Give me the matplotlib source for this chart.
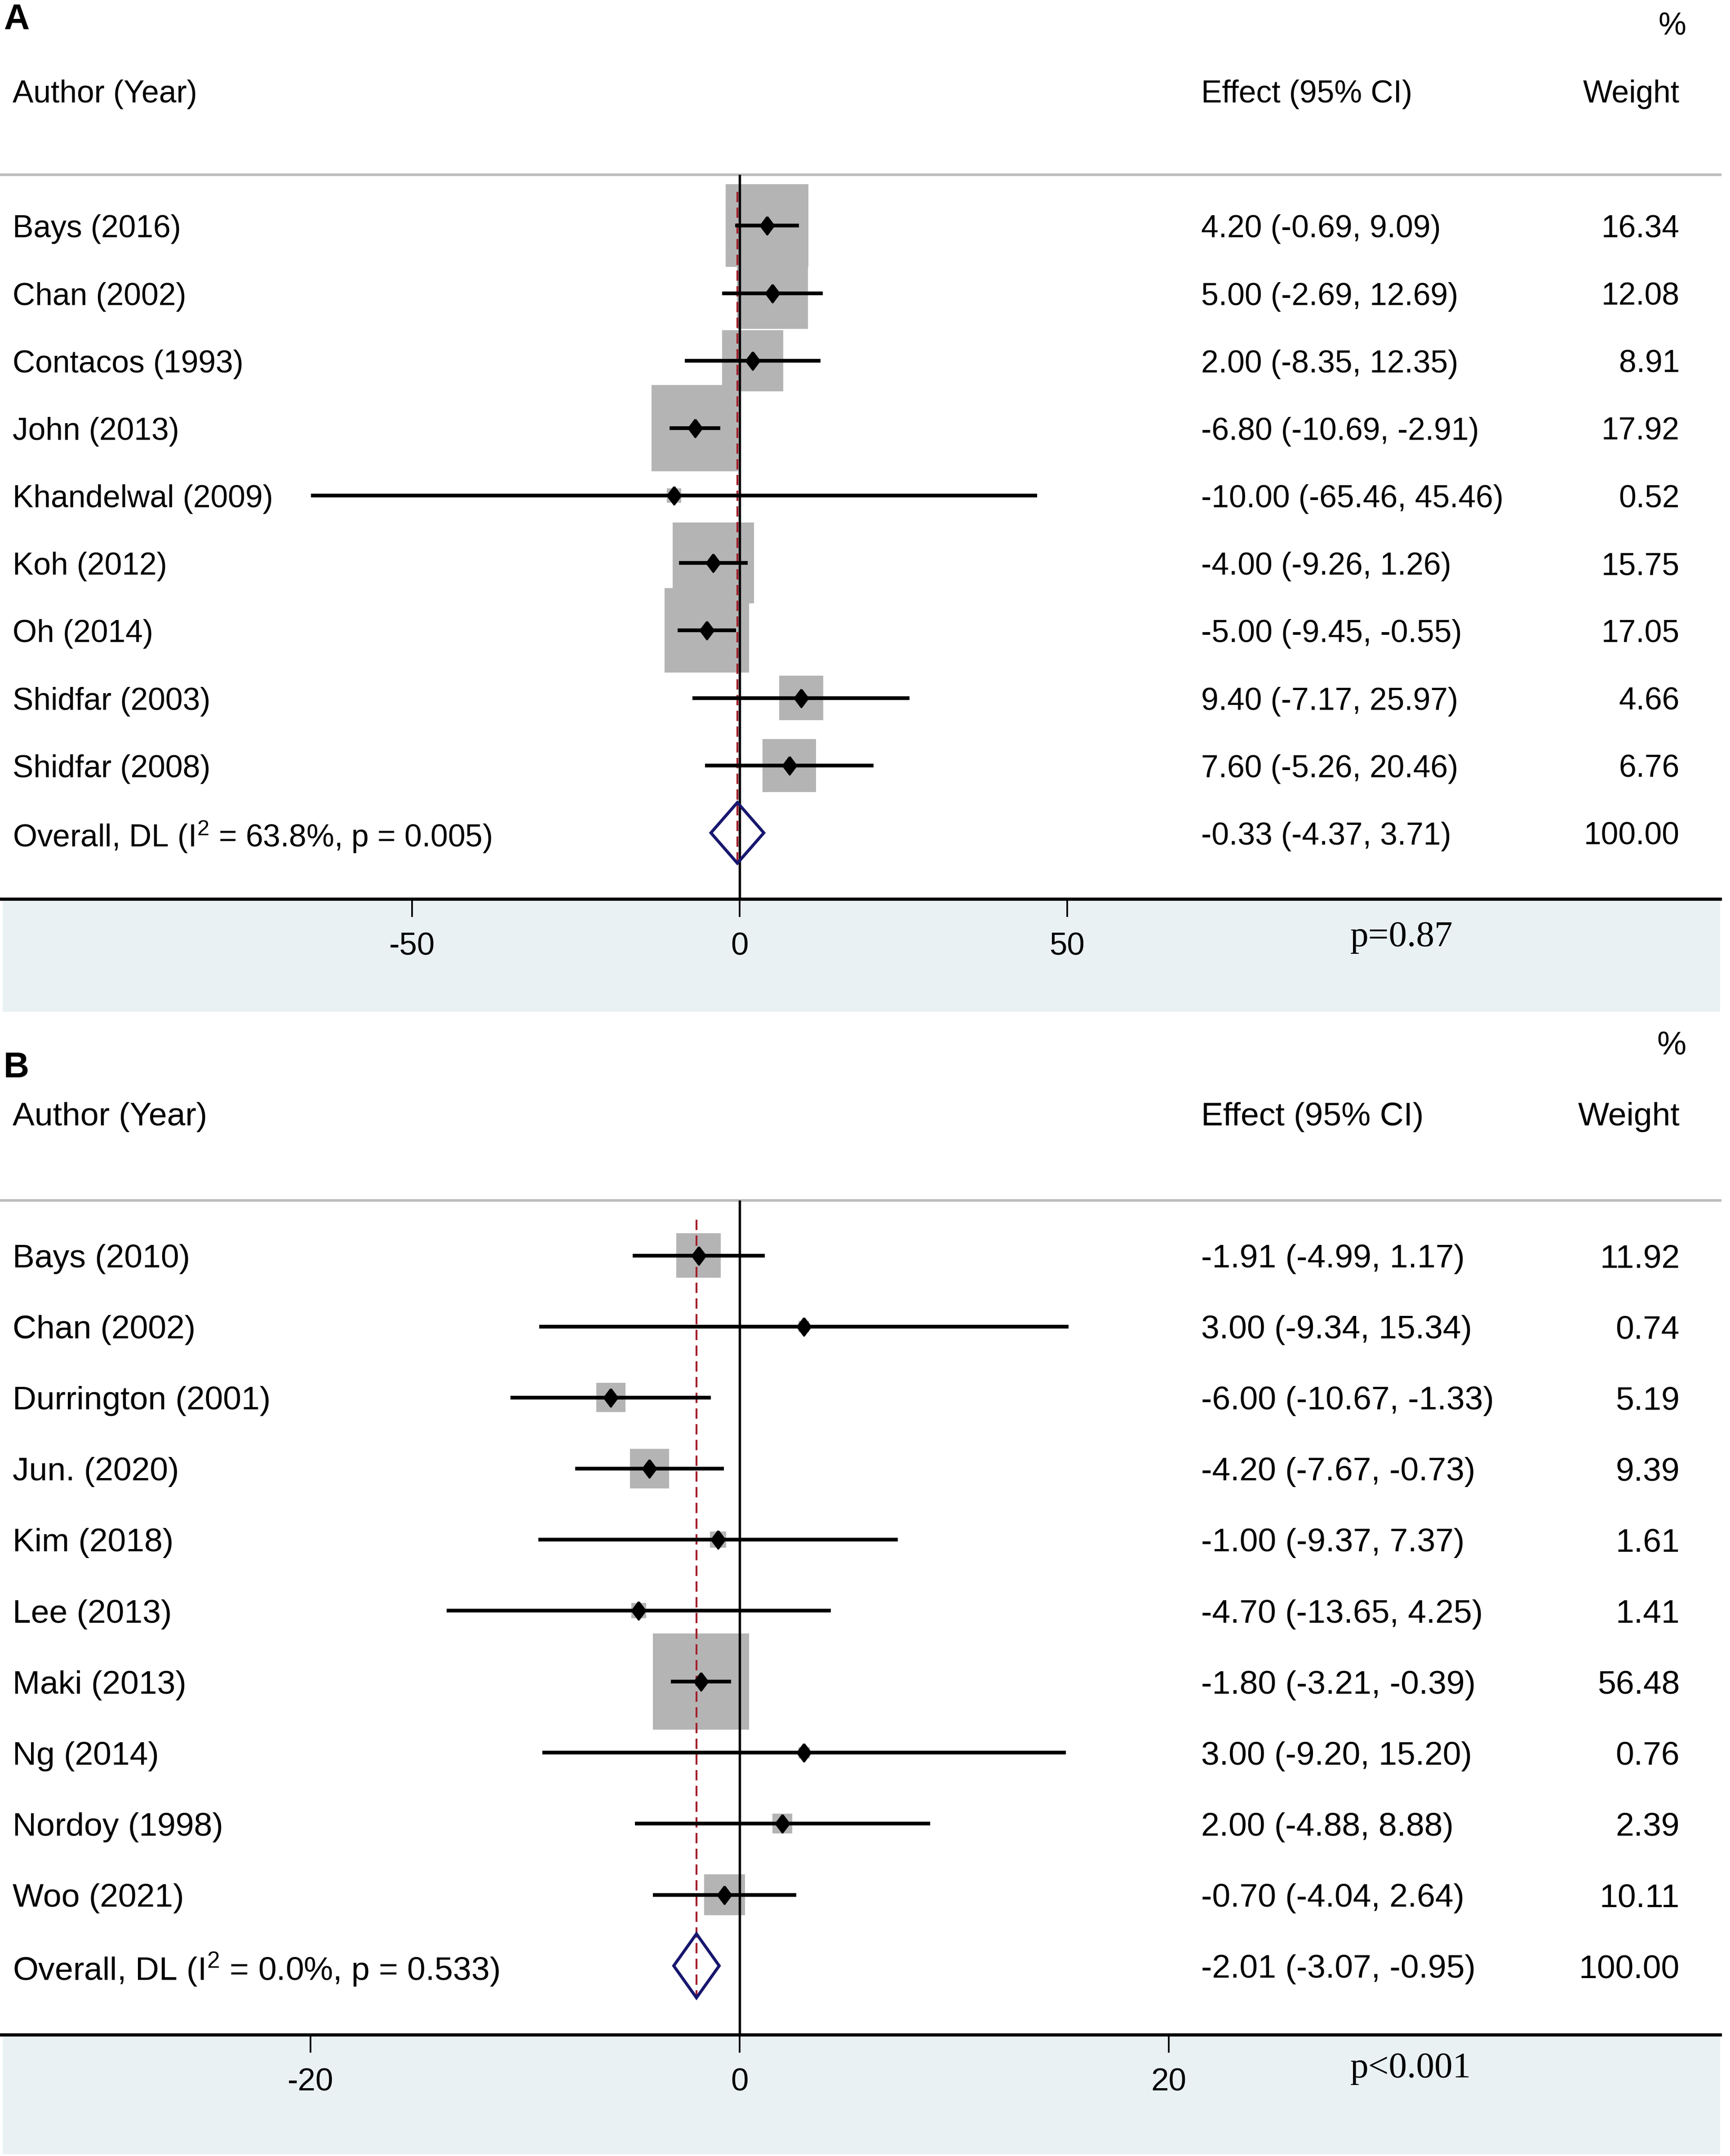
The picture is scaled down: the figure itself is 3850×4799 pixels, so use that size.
import numpy as np
import matplotlib
matplotlib.use('Agg')
import matplotlib.pyplot as plt
from matplotlib.patches import Rectangle, Polygon

plt.rcParams['font.family'] = ['Liberation Sans', 'DejaVu Sans']
plt.rcParams['axes.unicode_minus'] = False
plt.rcParams['mathtext.default'] = 'regular'

# ---- panel A data ----
studies_a = ['Bays (2016)', 'Chan (2002)', 'Contacos (1993)', 'John (2013)',
             'Khandelwal (2009)', 'Koh (2012)', 'Oh (2014)', 'Shidfar (2003)',
             'Shidfar (2008)']
effect_a = [4.20, 5.00, 2.00, -6.80, -10.00, -4.00, -5.00, 9.40, 7.60]
lower_a = [-0.69, -2.69, -8.35, -10.69, -65.46, -9.26, -9.45, -7.17, -5.26]
upper_a = [9.09, 12.69, 12.35, -2.91, 45.46, 1.26, -0.55, 25.97, 20.46]
weight_a = [16.34, 12.08, 8.91, 17.92, 0.52, 15.75, 17.05, 4.66, 6.76]
overall_a = [-0.33, -4.37, 3.71]
i2_a, het_p_a = '63.8', '0.005'
ptext_a = 'p=0.87'
ticks_a = [-50, 0, 50]

# ---- panel B data ----
studies_b = ['Bays (2010)', 'Chan (2002)', 'Durrington (2001)', 'Jun. (2020)',
             'Kim (2018)', 'Lee (2013)', 'Maki (2013)', 'Ng (2014)',
             'Nordoy (1998)', 'Woo (2021)']
effect_b = [-1.91, 3.00, -6.00, -4.20, -1.00, -4.70, -1.80, 3.00, 2.00, -0.70]
lower_b = [-4.99, -9.34, -10.67, -7.67, -9.37, -13.65, -3.21, -9.20, -4.88, -4.04]
upper_b = [1.17, 15.34, -1.33, -0.73, 7.37, 4.25, -0.39, 15.20, 8.88, 2.64]
weight_b = [11.92, 0.74, 5.19, 9.39, 1.61, 1.41, 56.48, 0.76, 2.39, 10.11]
overall_b = [-2.01, -3.07, -0.95]
i2_b, het_p_b = '0.0', '0.533'
ptext_b = 'p<0.001'
ticks_b = [-20, 0, 20]

W, H = 3850, 4799
AXW = 3828
fig = plt.figure(figsize=(W / 300, H / 300), dpi=300)
fig.patch.set_facecolor('white')

BAND = '#e9f1f3'
NAVY = '#17176f'


def draw_panel(top_px, bottom_px, band_bottom_px, letter, letter_y, studies,
               eff, lo, hi, wt, overall, i2, hetp, ptext, p_y, xlim, ylim,
               ticks, box_k, fs):
    ax = fig.add_axes([0, 1 - bottom_px / H, AXW / W, (bottom_px - top_px) / H])
    ax.set_xlim(*xlim)
    ax.set_ylim(*ylim)
    ax.patch.set_alpha(0)

    # light band under the axis
    fig.patches.append(Rectangle((6 / W, 1 - band_bottom_px / H),
                                 (AXW - 6) / W, (band_bottom_px - bottom_px - 3) / H,
                                 transform=fig.transFigure, color=BAND,
                                 zorder=-1, lw=0))

    n = len(studies)
    rows = np.arange(n)
    px_x = AXW / (xlim[1] - xlim[0])
    px_row = (bottom_px - top_px) / (ylim[0] - ylim[1])
    dy = 8 / px_row  # small downward nudge so text sits on the row

    for i in rows:
        side = box_k * np.sqrt(wt[i])
        bw, bh = side / px_x, side / px_row
        ax.add_patch(Rectangle((eff[i] - bw / 2, i - bh / 2), bw, bh,
                               color='#b4b4b4', lw=0, zorder=1))
    ax.axvline(0, color='black', lw=1.3, zorder=3)
    ax.vlines(overall[0], -0.5, n + 0.46, color='#a31f2b', lw=1.0,
              linestyles=(0, (5.5, 2.9)), zorder=3)
    ax.hlines(rows, lo, hi, color='black', lw=2.0, zorder=4)
    diamond = [(0, 1), (0.75, 0), (0, -1), (-0.75, 0), (0, 1)]
    ax.plot(eff, rows, ls='none', marker=diamond, ms=9.5, color='black', zorder=5)
    ax.add_patch(Polygon([(overall[1], n), (overall[0], n - 0.45),
                          (overall[2], n), (overall[0], n + 0.45)],
                         closed=True, fill=False, edgecolor=NAVY, lw=1.6,
                         zorder=5))

    tr = ax.get_yaxis_transform()
    for i in rows:
        ax.text(28 / AXW, i + dy, studies[i], transform=tr, ha='left',
                va='center', fontsize=fs)
        ax.text(2673 / AXW, i + dy, f'{eff[i]:.2f} ({lo[i]:.2f}, {hi[i]:.2f})',
                transform=tr, ha='left', va='center', fontsize=fs)
        ax.text(3738 / AXW, i + dy, f'{wt[i]:.2f}', transform=tr, ha='right',
                va='center', fontsize=fs)
    ax.text(28 / AXW, n + dy, f'Overall, DL (I$^2$ = {i2}%, p = {hetp})',
            transform=tr, ha='left', va='center', fontsize=fs)
    ax.text(2673 / AXW, n + dy,
            f'{overall[0]:.2f} ({overall[1]:.2f}, {overall[2]:.2f})',
            transform=tr, ha='left', va='center', fontsize=fs)
    ax.text(3738 / AXW, n + dy, '100.00', transform=tr, ha='right',
            va='center', fontsize=fs)

    # header
    ax.text(28 / AXW, -2.0 + dy, 'Author (Year)', transform=tr, ha='left',
            va='center', fontsize=fs, clip_on=False)
    ax.text(2673 / AXW, -2.0 + dy, 'Effect (95% CI)', transform=tr, ha='left',
            va='center', fontsize=fs, clip_on=False)
    ax.text(3738 / AXW, -2.0 + dy, 'Weight', transform=tr, ha='right',
            va='center', fontsize=fs, clip_on=False)
    ax.text(3752 / AXW, -3.0 + dy, '%', transform=tr, ha='right', va='center',
            fontsize=fs, clip_on=False)
    ax.text(8 / AXW, letter_y, letter, transform=tr, ha='left', va='center',
            fontsize=19, fontweight='bold', clip_on=False)

    ax.text(3005 / AXW, p_y, ptext, transform=tr, ha='left', va='center',
            fontsize=19.5, family='Liberation Serif', clip_on=False)

    for s in ['left', 'right']:
        ax.spines[s].set_visible(False)
    ax.spines['top'].set_color('#bdbdbd')
    ax.spines['top'].set_linewidth(1.4)
    ax.spines['bottom'].set_linewidth(1.7)
    ax.set_yticks([])
    ax.set_xticks(ticks)
    ax.set_xticklabels([str(t) for t in ticks])
    ax.tick_params(axis='x', direction='out', length=9.6, width=0.9, pad=8,
                   labelsize=17)
    return ax


draw_panel(389, 2001, 2252, 'A', -3.05, studies_a, effect_a, lower_a, upper_a,
           weight_a, overall_a, i2_a, het_p_a, ptext_a, 10.55,
           (-112.9, 149.7), (9.98, -0.755), ticks_a, 45.5, 16.7)
draw_panel(2672, 4529, 4795, 'B', -2.64, studies_b, effect_b, lower_b, upper_b,
           weight_b, overall_b, i2_b, het_p_b, ptext_b, 11.45,
           (-34.47, 45.7), (10.97, -0.775), ticks_b, 28.5, 17.6)

fig.savefig('out.png', dpi=300, facecolor='white')
